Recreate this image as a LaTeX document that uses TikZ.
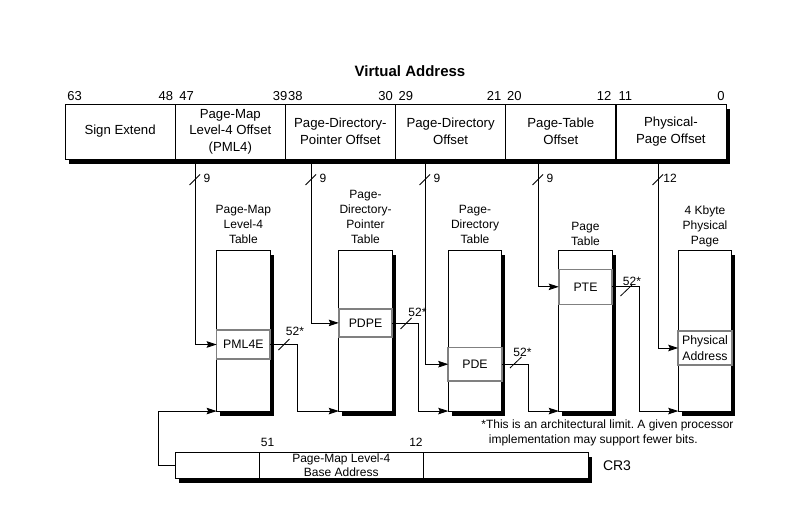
\documentclass[tikz,border=0pt]{standalone}
\usepackage{fontspec}
\setmainfont{Liberation Sans}
\usetikzlibrary{arrows.meta,shadows}
\frenchspacing

\begin{document}
\begin{tikzpicture}[x=1pt,y=-1pt,line width=0.8pt,
  shade4/.style={general shadow={fill=black,shadow xshift=3.5pt,shadow yshift=-4.5pt}},
  field/.style={draw,minimum width=#1,minimum height=55pt,inner sep=0pt,outer sep=0pt,
    align=center,font=\fontsize{13.2}{16.5}\selectfont},
  bit/.style={inner sep=0pt,font=\fontsize{13}{15}\selectfont},
  table/.style={draw,fill=white,shade4,minimum width=53.5pt,minimum height=160.3pt,
    inner sep=0pt,outer sep=0pt},
  tlabel/.style={anchor=south,align=center,inner sep=0pt,font=\fontsize{12}{15}\selectfont},
  entry/.style={draw=gray,line width=1.6pt,fill=white,minimum width=53.5pt,minimum height=#1,
    inner sep=0pt,outer sep=0pt,align=center,font=\fontsize{12.3}{15.5}\selectfont},
  lab/.style={inner sep=0pt,font=\fontsize{12}{14}\selectfont},
  arr/.style={-{Stealth[length=10pt,width=6.5pt,inset=1.5pt]}}]
  % \draw (0,0) grid (785,514);
  \useasboundingbox (0,0) rectangle (785,514);

  % virtual address
  \node[font=\fontsize{15}{18}\selectfont\bfseries] (title) at (410,71) {Virtual Address};
  \node[fill=white,shade4,minimum width=661pt,minimum height=55pt,outer sep=0pt] (va) at (395.5,131.5) {};
  \node[field=110.2pt] (signf) at (120.1,131.5) {Sign Extend};
  \node[field=110.2pt] (pml4f) at (230.3,131.5) {Page-Map\\Level-4 Offset\\(PML4)};
  \node[field=110.2pt] (pdpf) at (340.4,131.5) {Page-Directory-\\Pointer Offset};
  \node[field=110.2pt] (pdf) at (450.6,131.5) {Page-Directory\\Offset};
  \node[field=110.2pt] (ptf) at (560.8,131.5) {Page-Table\\Offset};
  \node[field=110.2pt] (physf) at (670.9,131.5) {Physical-\\Page Offset};

  \node[bit,anchor=west] (b63) at (67,96) {63};
  \node[bit,anchor=east] (b48) at (173.5,96) {48};
  \node[bit,anchor=west] (b47) at (179,96) {47};
  \node[bit,anchor=east] (b39) at (287.7,96) {39};
  \node[bit,anchor=west] (b38) at (287.7,96) {38};
  \node[bit,anchor=east] (b30) at (393.3,96) {30};
  \node[bit,anchor=west] (b29) at (398.3,96) {29};
  \node[bit,anchor=east] (b21) at (501.7,96) {21};
  \node[bit,anchor=west] (b20) at (506.7,96) {20};
  \node[bit,anchor=east] (b12) at (611.7,96) {12};
  \node[bit,anchor=west] (b11) at (618.3,96) {11};
  \node[bit,anchor=east] (b0) at (725,96) {0};

  % tables
  \node[table] (pml4t) at (243.4,330.9) {};
  \node[table] (pdpt) at (365.5,330.9) {};
  \node[table] (pdt) at (475,330.9) {};
  \node[table] (ptt) at (585.5,330.9) {};
  \node[table] (paget) at (705,330.9) {};

  \node[tlabel] (pml4l) at ([yshift=7pt]pml4t.north) {Page-Map\\Level-4\\Table};
  \node[tlabel] (pdpl) at ([yshift=7pt]pdpt.north) {Page-\\Directory-\\Pointer\\Table};
  \node[tlabel] (pdl) at ([yshift=7pt]pdt.north) {Page-\\Directory\\Table};
  \node[tlabel] (ptl) at ([yshift=5pt]ptt.north) {Page\\Table};
  \node[tlabel] (pagel) at ([yshift=3pt]paget.north) {4 Kbyte\\Physical\\Page};

  \node[entry=29pt] (pml4e) at (243.4,344.5) {PML4E};
  \node[entry=28.3pt] (pdpe) at (365.5,322.9) {PDPE};
  \node[entry=33.7pt] (pde) at (475,364.2) {PDE};
  \node[entry=35pt] (pte) at (585.5,286.8) {PTE};
  \node[entry=34pt] (physa) at (705,348) {Physical\\Address};

  % offsets into the tables
  \draw[arr] (195,0 |- pml4f.south) |- (pml4e.west);
  \draw[arr] (311,0 |- pdpf.south) |- (pdpe.west);
  \draw[arr] (425,0 |- pdf.south) |- (pde.west);
  \draw[arr] (538,0 |- ptf.south) |- (pte.west);
  \draw[arr] (658,0 |- physf.south) |- (physa.west);

  \draw (189.5,185) -- (200,174.5);
  \draw (305.5,185) -- (316,174.5);
  \draw (419.5,185) -- (430,174.5);
  \draw (532.5,185) -- (543,174.5);
  \draw (652.5,185) -- (663,174.5);
  \node[lab] (w1) at (207,178) {9};
  \node[lab] (w2) at (323,178) {9};
  \node[lab] (w3) at (437,178) {9};
  \node[lab] (w4) at (550,178) {9};
  \node[lab] (w5) at (670,178) {12};

  % base addresses
  \draw[arr] (pml4e.east) -- ++(27,0) |- (pdpt.south west);
  \draw[arr] (pdpe.east) -- ++(26.5,0) |- (pdt.south west);
  \draw[arr] (pde.east) -- ++(26.5,0) |- (ptt.south west);
  \draw[arr] (pte.east) -- ++(27.5,0) |- (paget.south west);

  \draw (278.5,350) -- (289.5,339);
  \draw (400.5,329) -- (411.5,318);
  \draw (510,368) -- (521.5,357);
  \draw (620.5,296) -- (632,285);
  \node[lab] (s1) at (295,331) {52*};
  \node[lab] (s2) at (417.5,312) {52*};
  \node[lab] (s3) at (522.5,352) {52*};
  \node[lab] (s4) at (632,281) {52*};

  \node[lab,anchor=west] (note1) at (481,425) {*This is an architectural limit. A given processor};
  \node[lab,anchor=west] (note2) at (488.5,440.5) {implementation may support fewer bits.};

  % CR3
  \node[fill=white,shade4,minimum width=412.6pt,minimum height=26pt,outer sep=0pt] (cr3) at (382,465.3) {};
  \node[draw,minimum width=83.6pt,minimum height=26pt,outer sep=0pt] (cr3a) at (217.5,465.3) {};
  \node[draw,minimum width=164pt,minimum height=26pt,inner sep=0pt,outer sep=0pt,align=center,
    font=\fontsize{12}{14}\selectfont] (cr3b) at (341.3,465.3) {Page-Map Level-4\\Base Address};
  \node[draw,minimum width=165pt,minimum height=26pt,outer sep=0pt] (cr3c) at (505.8,465.3) {};
  \node[lab,anchor=west] (b51) at (260.5,442.5) {51};
  \node[lab,anchor=east] (b12c) at (423,442.5) {12};
  \node[font=\fontsize{14}{16}\selectfont,inner sep=0pt] (cr3l) at (617,466) {CR3};
  \draw[arr] (cr3.west) -- ++(-17.5,0) |- (pml4t.south west);
\end{tikzpicture}
\end{document}
